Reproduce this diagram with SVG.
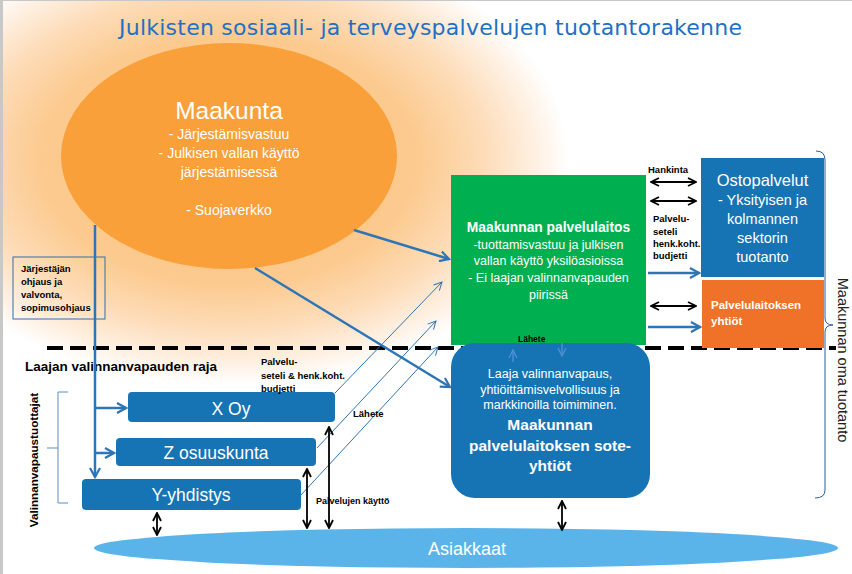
<svg xmlns="http://www.w3.org/2000/svg" width="852" height="574" viewBox="0 0 852 574">
<defs>
<radialGradient id="glow" gradientUnits="userSpaceOnUse" cx="0" cy="0" r="1" gradientTransform="translate(229,160) scale(340,225)">
<stop offset="0" stop-color="#fbc27f"/>
<stop offset="0.55" stop-color="#fcca8f"/>
<stop offset="0.75" stop-color="#fddcb8"/>
<stop offset="0.9" stop-color="#fef0e2"/>
<stop offset="1" stop-color="#ffffff"/>
</radialGradient>
<marker id="ab" markerUnits="userSpaceOnUse" viewBox="0 0 12 12" refX="10" refY="6" markerWidth="12" markerHeight="12" orient="auto-start-reverse">
<path d="M1,1 L10,6 L1,11" fill="none" stroke="#2e75b6" stroke-width="2.2"/>
</marker>
<marker id="at" markerUnits="userSpaceOnUse" viewBox="0 0 10 10" refX="9" refY="5" markerWidth="10" markerHeight="10" orient="auto-start-reverse">
<path d="M1,1 L9,5 L1,9" fill="none" stroke="#2e75b6" stroke-width="1"/>
</marker>
<marker id="ak" markerUnits="userSpaceOnUse" viewBox="0 0 10 10" refX="9" refY="5" markerWidth="10" markerHeight="10" orient="auto-start-reverse">
<path d="M1,1 L9,5 L1,9" fill="none" stroke="#000" stroke-width="1.8"/>
</marker>
<marker id="af" markerUnits="userSpaceOnUse" viewBox="0 0 10 10" refX="9" refY="5" markerWidth="10" markerHeight="10" orient="auto-start-reverse">
<path d="M1,1 L9,5 L1,9" fill="none" stroke="#4a92d2" stroke-width="1.4"/>
</marker>
</defs>
<style>
.s{font-family:"Liberation Sans",Arial,sans-serif}
.w{fill:#fff}
.c{text-anchor:middle}
.b{font-weight:bold}
.lb{font-family:"Liberation Sans",Arial,sans-serif;font-weight:bold;font-size:9.5px;fill:#000}
.thick{stroke:#2e75b6;stroke-width:2.5;fill:none}
.thin{stroke:#2e75b6;stroke-width:1;fill:none}
.dbl{stroke:#000;stroke-width:1.8;fill:none}
.box{fill:#1774b4}
</style>
<rect x="0" y="0" width="852" height="574" fill="#ffffff"/>
<rect x="0" y="0" width="852" height="574" fill="url(#glow)"/>
<rect x="0" y="0" width="852" height="1" fill="#c8c8c8"/>
<rect x="0" y="0" width="3" height="574" fill="#c8c8c8"/>

<text x="119" y="35" font-family="'DejaVu Sans',Verdana,sans-serif" font-size="22" fill="#1f70c4" textLength="623">Julkisten sosiaali- ja terveyspalvelujen tuotantorakenne</text>

<line x1="47" y1="348" x2="836" y2="348" stroke="#000" stroke-width="4" stroke-dasharray="16 7"/>

<g id="maakunta">
<ellipse cx="229" cy="156" rx="168" ry="113" fill="#f9a03b"/>
<text class="s w c" x="229" y="119" font-size="24.5">Maakunta</text>
<text class="s w c" x="229" y="139" font-size="14">- Järjestämisvastuu</text>
<text class="s w c" x="229" y="158" font-size="14">- Julkisen vallan käyttö</text>
<text class="s w c" x="229" y="177" font-size="14">järjestämisessä</text>
<text class="s w c" x="229" y="215" font-size="14">- Suojaverkko</text>
</g>

<g id="palvelulaitos">
<rect x="451" y="175" width="195" height="170" fill="#00b050"/>
<text class="s w c b" x="548.5" y="232" font-size="13.8">Maakunnan palvelulaitos</text>
<text class="s w c" x="548.5" y="249" font-size="12.5">-tuottamisvastuu ja julkisen</text>
<text class="s w c" x="548.5" y="265" font-size="12.5">vallan käyttö yksilöasioissa</text>
<text class="s w c" x="548.5" y="282" font-size="12.5">- Ei laajan valinnanvapauden</text>
<text class="s w c" x="548.5" y="299" font-size="12.5">piirissä</text>
<text class="lb" x="518" y="342" style="font-size:8.5px">Lähete</text>
</g>

<g id="ostopalvelut">
<rect x="701" y="158" width="123" height="119" class="box"/>
<text class="s w c" x="762.5" y="186" font-size="16.5">Ostopalvelut</text>
<text class="s w c" x="762.5" y="205" font-size="14.5">- Yksityisen ja</text>
<text class="s w c" x="762.5" y="224" font-size="14.5">kolmannen</text>
<text class="s w c" x="762.5" y="243" font-size="14.5">sektorin</text>
<text class="s w c" x="762.5" y="262" font-size="14.5">tuotanto</text>
</g>

<g id="yhtiot">
<rect x="702" y="280" width="122" height="68" fill="#f07128"/>
<text class="s w b" x="711" y="309" font-size="11.5">Palvelulaitoksen</text>
<text class="s w b" x="711" y="325" font-size="11.5">yhtiöt</text>
</g>

<g id="sote">
<rect x="451" y="343" width="199" height="155" rx="24" class="box"/>
<text class="s w c" x="550" y="378" font-size="12.5">Laaja valinnanvapaus,</text>
<text class="s w c" x="550" y="394" font-size="12.5">yhtiöittämisvelvollisuus ja</text>
<text class="s w c" x="550" y="409" font-size="12.5">markkinoilla toimiminen.</text>
<text class="s w c b" x="550" y="430" font-size="15.5">Maakunnan</text>
<text class="s w c b" x="550" y="451" font-size="15.5">palvelulaitoksen sote-</text>
<text class="s w c b" x="550" y="471" font-size="15.5">yhtiöt</text>
</g>

<g id="ohjaus">
<rect x="13" y="257" width="92" height="62" fill="none" stroke="#2e6fb0" stroke-width="1"/>
<text class="lb" x="21" y="272">Järjestäjän</text>
<text class="lb" x="21" y="285">ohjaus ja</text>
<text class="lb" x="21" y="298">valvonta,</text>
<text class="lb" x="21" y="311">sopimusohjaus</text>
</g>

<g id="raja">
<text class="s b" x="25" y="371" font-size="13.5">Laajan valinnanvapauden raja</text>
</g>

<g id="xoy">
<rect x="128" y="392" width="207" height="30" rx="4" class="box"/>
<text class="s w c" x="231" y="415" font-size="17.5">X Oy</text>
</g>
<g id="zosuuskunta">
<rect x="116" y="438" width="200" height="28" rx="4" class="box"/>
<text class="s w c" x="216" y="459" font-size="17.5">Z osuuskunta</text>
</g>
<g id="yyhdistys">
<rect x="82" y="479" width="219" height="31" rx="4" class="box"/>
<text class="s w c" x="191" y="501" font-size="17.5">Y-yhdistys</text>
</g>

<g id="asiakkaat">
<ellipse cx="466" cy="548" rx="372" ry="20" fill="#5bb4e9"/>
<text class="s w c" x="467" y="555" font-size="18">Asiakkaat</text>
</g>

<g id="brackets">
<path d="M68,392 L58,392 L58,503 L68,503 M58,448 L47,448" fill="none" stroke="#5b8ec7" stroke-width="1"/>
<text class="s b c" transform="translate(38,460) rotate(-90)" font-size="11.7">Valinnanvapaustuottajat</text>
<path d="M816,151 Q825,151 825,160 L825,318 Q825,325 833,325 Q825,325 825,332 L825,490 Q825,498 815,498" fill="none" stroke="#2d5f9a" stroke-width="1"/>
<text class="s c" transform="translate(838,360) rotate(90)" font-size="14.5" fill="#222">Maakunnan oma tuotanto</text>
</g>

<g id="connectors">
<line class="thick" x1="354" y1="230" x2="449" y2="259" marker-end="url(#ab)"/>
<line class="thick" x1="255" y1="268" x2="450" y2="387" marker-end="url(#ab)"/>
<line class="thick" x1="95" y1="225" x2="95" y2="477" marker-end="url(#ab)"/>
<line class="thick" x1="95" y1="408" x2="126" y2="408" marker-end="url(#ab)"/>
<line class="thick" x1="95" y1="453" x2="114" y2="453" marker-end="url(#ab)"/>
<line class="thin" x1="335" y1="393" x2="442" y2="282" marker-end="url(#at)"/>
<line class="thin" x1="317" y1="448" x2="436" y2="321" marker-end="url(#at)"/>
<line class="thin" x1="301" y1="495" x2="438" y2="347" marker-end="url(#at)"/>
<line class="dbl" x1="651" y1="182" x2="696" y2="182" marker-start="url(#ak)" marker-end="url(#ak)"/>
<line class="dbl" x1="651" y1="201" x2="696" y2="201" marker-start="url(#ak)" marker-end="url(#ak)"/>
<line class="dbl" x1="651" y1="306" x2="696" y2="306" marker-start="url(#ak)" marker-end="url(#ak)"/>
<line class="thick" stroke-width="3" x1="648" y1="273" x2="699" y2="273" marker-end="url(#ab)"/>
<line class="thick" stroke-width="3" x1="648" y1="327" x2="700" y2="327" marker-end="url(#ab)"/>
<line class="dbl" x1="157" y1="513" x2="157" y2="535" marker-start="url(#ak)" marker-end="url(#ak)"/>
<line class="dbl" x1="307" y1="469" x2="307" y2="528" marker-start="url(#ak)" marker-end="url(#ak)"/>
<line class="dbl" x1="329" y1="427" x2="329" y2="528" marker-start="url(#ak)" marker-end="url(#ak)"/>
<line class="dbl" x1="562" y1="501" x2="562" y2="530" marker-start="url(#ak)" marker-end="url(#ak)"/>
<line stroke="#4a92d2" stroke-width="1.4" x1="513" y1="362" x2="513" y2="350" marker-end="url(#af)"/>
<line stroke="#4a92d2" stroke-width="1.4" x1="562" y1="343" x2="562" y2="356" marker-end="url(#af)"/>
</g>

<g id="labels">
<text class="lb" x="648" y="173">Hankinta</text>
<text class="lb" x="653" y="222">Palvelu-</text>
<text class="lb" x="653" y="235">seteli</text>
<text class="lb" x="653" y="247">henk.koht.</text>
<text class="lb" x="653" y="259">budjetti</text>
<text class="lb" x="261" y="365">Palvelu-</text>
<text class="lb" x="261" y="379">seteli &amp; henk.koht.</text>
<text class="lb" x="261" y="392">budjetti</text>
<text class="lb" x="353" y="417">Lähete</text>
<text class="lb" x="316" y="504" style="font-size:9px">Palvelujen käyttö</text>
</g>
</svg>
